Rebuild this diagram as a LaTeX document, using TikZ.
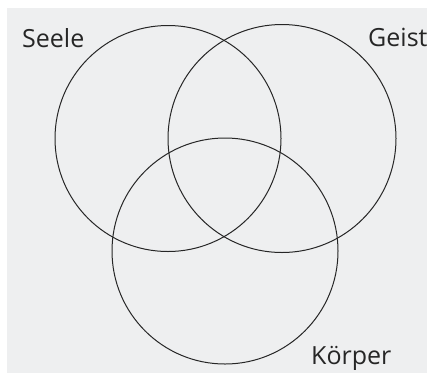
\documentclass[tikz,border=0pt]{standalone}
\usepackage{fontspec}
\setmainfont{Open Sans}
\definecolor{paper}{RGB}{238,239,240}
\tikzstyle{set}=[line width = 1pt, black!85]
\tikzstyle{setlabel}=[inner sep=0pt, anchor=base west, font=\fontsize{25}{25}\selectfont, black!85]

\begin{document}
\begin{tikzpicture}[x=1pt, y=-1pt]
				\useasboundingbox (0,0) rectangle (427,373);
				\fill[white] (0,0) rectangle (427,373);
				\fill[paper] (7,8) rectangle (427,373);

				\coordinate (seele) at (168,138.5);
				\coordinate (geist) at (282,138.5);
				\coordinate (koerper) at (225,251);

				\draw[set] (seele) circle [radius=113];
				\draw[set] (geist) circle [radius=114];
				\draw[set] (koerper) circle [radius=113];

				\node[setlabel] (seelelabel) at (22,47) {Seele};
				\node[setlabel] (geistlabel) at (368,46) {Geist};
				\node[setlabel] (koerperlabel) at (311,364) {Körper};
			\end{tikzpicture}
\end{document}
